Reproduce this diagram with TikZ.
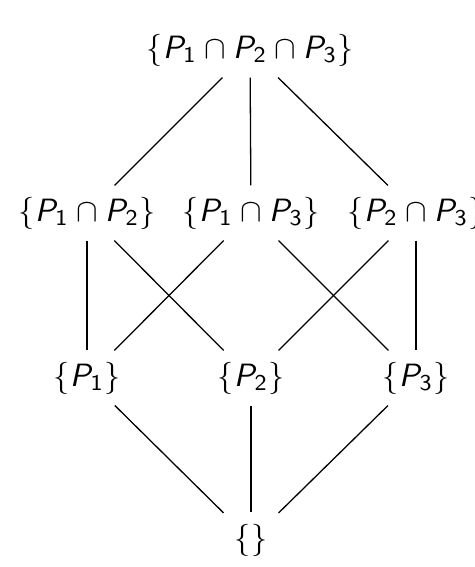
\documentclass[tikz,border=0pt]{standalone}
\usepackage{amsmath, amssymb}
\usepackage{tikz}

% 无衬线斜体的 P 带下标
\newcommand{\Pset}[1]{\textit{P}_{\text{#1}}}

\begin{document}
\begin{tikzpicture}[x=0.31pt,y=-0.31pt,font=\sffamily]
    \useasboundingbox (0,0) rectangle (474,567);
    % 放置各层集合
    \node (p123) at (250,50)  {$\{\Pset{1}\cap \Pset{2}\cap \Pset{3}\}$};
    \node (p12)  at (87,213)  {$\{\Pset{1}\cap \Pset{2}\}$};
    \node (p13)  at (251,213) {$\{\Pset{1}\cap \Pset{3}\}$};
    \node (p23)  at (416,213) {$\{\Pset{2}\cap \Pset{3}\}$};
    \node (p1)   at (87,378)  {$\{\Pset{1}\}$};
    \node (p2)   at (251,378) {$\{\Pset{2}\}$};
    \node (p3)   at (416,378) {$\{\Pset{3}\}$};
    \node (emp)  at (251,540) {$\{\}$};

    % 画包含关系
    \draw (p123) -- (p12);
    \draw (p123) -- (p13);
    \draw (p123) -- (p23);
    \draw (p12) -- (p1);
    \draw (p12) -- (p2);
    \draw (p13) -- (p1);
    \draw (p13) -- (p3);
    \draw (p23) -- (p2);
    \draw (p23) -- (p3);
    \draw (p1) -- (emp);
    \draw (p2) -- (emp);
    \draw (p3) -- (emp);
\end{tikzpicture}
\end{document}
